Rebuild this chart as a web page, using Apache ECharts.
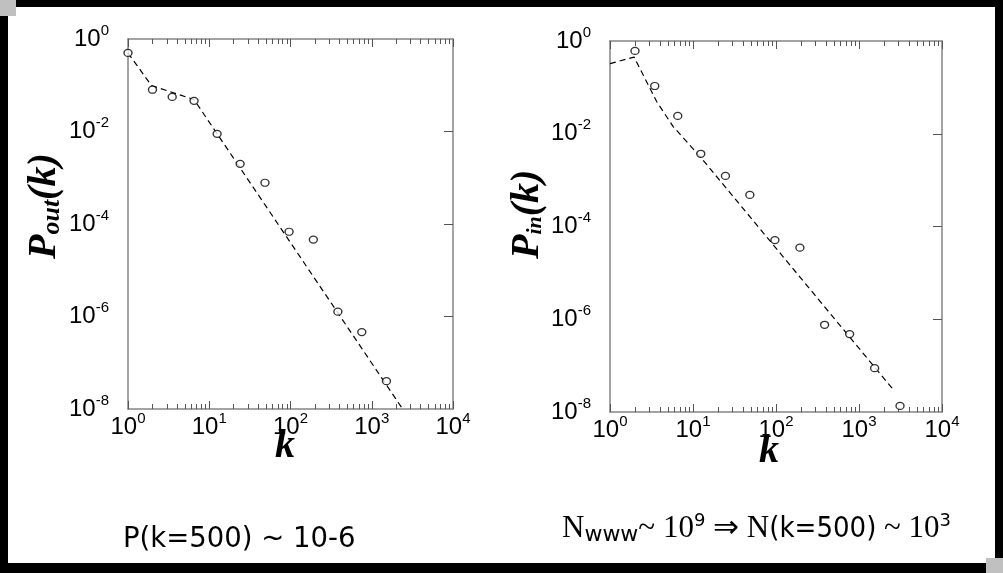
<!DOCTYPE html>
<html><head><meta charset="utf-8">
<script src="https://cdn.jsdelivr.net/npm/echarts@6/dist/echarts.min.js"></script>
<style>html,body{margin:0;padding:0;background:#000;} #c{width:1003px;height:573px;}</style>
</head><body><div id="c"></div>
<script>
// ---- data ----
const xMajorTicks = [1, 10, 100, 1000, 10000];
const xMinorTicks = [2,3,4,5,6,7,8,9, 20,30,40,50,60,70,80,90, 200,300,400,500,600,700,800,900, 2000,3000,4000,5000,6000,7000,8000,9000];
const yLabelValues = [1, 1e-2, 1e-4, 1e-6, 1e-8];
const yRightTicks = [1e-2, 1e-4, 1e-6];

const outK = [1, 2, 3.5, 6.5, 12.5, 24, 48.5, 96, 191, 383, 754, 1517];
const outP = [0.5, 0.08, 0.056, 0.046, 0.0089, 0.002, 7.8e-4, 6.8e-5, 4.6e-5, 1.27e-6, 4.6e-7, 4e-8];
const outFitK = [1, 1.94, 6.5, 2400];
const outFitP = [0.5, 0.099, 0.049, 1.0e-8];

const inK = [2, 3.46, 6.55, 12.4, 24.6, 48.4, 97, 194, 385, 771, 1543, 3120];
const inP = [0.61, 0.107, 0.0242, 0.0037, 0.00123, 4.8e-4, 5.1e-5, 3.5e-5, 7.6e-7, 4.8e-7, 8.8e-8, 1.35e-8];
const inFitK = [1, 1.95, 3.66, 5.8, 12.2, 2617];
const inFitP = [0.325, 0.45, 0.049, 0.0141, 0.0032, 2.96e-8];

const leftNote = 'P(k=500) ~ 10-6';

// ---- helpers ----
const zip = (a, b) => a.map((v, i) => [v, b[i]]);
const AX = '#858585';
const labelRich = {
  b: { fontSize: 24, fontFamily: 'Liberation Sans', color: '#000', verticalAlign: 'middle' },
  s: { fontSize: 15, fontFamily: 'Liberation Sans', color: '#000', padding: [0, 0, 17, 0], verticalAlign: 'middle' }
};
const powLabel = v => '{b|10}{s|' + Math.round(Math.log10(v)) + '}';

function xAxes(gMain, gMinor) {
  const base = { type: 'log', logBase: 10, min: 1, max: 10000, splitLine: { show: false } };
  return [
    Object.assign({}, base, { gridIndex: gMain, position: 'bottom',
      axisLine: { show: true, lineStyle: { color: AX, width: 1.5 } },
      axisTick: { show: true, inside: true, length: 8, customValues: xMajorTicks, lineStyle: { color: '#555', width: 1 } },
      axisLabel: { show: true, customValues: xMajorTicks, formatter: powLabel, rich: labelRich, margin: 2 } }),
    Object.assign({}, base, { gridIndex: gMain, position: 'top',
      axisLine: { show: true, lineStyle: { color: AX, width: 1.5 } },
      axisTick: { show: true, inside: true, length: 8, customValues: xMajorTicks, lineStyle: { color: '#555', width: 1 } },
      axisLabel: { show: false } }),
    Object.assign({}, base, { gridIndex: gMinor, position: 'bottom',
      axisLine: { show: false },
      axisTick: { show: true, inside: true, length: 5, customValues: xMinorTicks, lineStyle: { color: '#555', width: 1 } },
      axisLabel: { show: false } }),
    Object.assign({}, base, { gridIndex: gMinor, position: 'top',
      axisLine: { show: false },
      axisTick: { show: true, inside: true, length: 5, customValues: xMinorTicks, lineStyle: { color: '#555', width: 1 } },
      axisLabel: { show: false } })
  ];
}
function yAxes(gMain, gMinor) {
  const base = { type: 'log', logBase: 10, min: 1e-8, max: 1, splitLine: { show: false } };
  return [
    Object.assign({}, base, { gridIndex: gMain, position: 'left',
      axisLine: { show: true, lineStyle: { color: AX, width: 1.5 } },
      axisTick: { show: false },
      axisLabel: { show: true, customValues: yLabelValues, formatter: powLabel, rich: labelRich, margin: 19 } }),
    Object.assign({}, base, { gridIndex: gMain, position: 'right',
      axisLine: { show: true, lineStyle: { color: AX, width: 1.5 } },
      axisTick: { show: true, inside: true, length: 9, customValues: yRightTicks, lineStyle: { color: '#555', width: 1 } },
      axisLabel: { show: false } }),
    Object.assign({}, base, { gridIndex: gMinor, show: false })
  ];
}
const scatterStyle = { color: '#fff', borderColor: '#000', borderWidth: 1.3 };
const fitStyle = { color: '#000', width: 1.2, type: [6, 4] };
const titleP = { fontSize: 40, fontFamily: 'Liberation Serif', fontWeight: 'bold', fontStyle: 'italic', color: '#000' };
const titleSub = { fontSize: 26, fontFamily: 'Liberation Serif', fontWeight: 'bold', fontStyle: 'italic', color: '#000', padding: [14, 0, 0, 0] };

const chart = echarts.init(document.getElementById('c'), null, { renderer: 'canvas' });
chart.setOption({
  backgroundColor: '#000',
  animation: false,
  grid: [
    { left: 128, top: 39, width: 325, height: 370 },
    { left: 128, top: 39, width: 325, height: 370 },
    { left: 610, top: 41, width: 332, height: 371 },
    { left: 610, top: 41, width: 332, height: 371 }
  ],
  xAxis: [].concat(xAxes(0, 1), xAxes(2, 3)),
  yAxis: [].concat(yAxes(0, 1), yAxes(2, 3)),
  series: [
    { type: 'line', xAxisIndex: 0, yAxisIndex: 0, data: zip(outFitK, outFitP), showSymbol: false, lineStyle: fitStyle, z: 2 },
    { type: 'scatter', xAxisIndex: 0, yAxisIndex: 0, data: zip(outK, outP), symbol: 'circle', symbolSize: [8, 7], itemStyle: scatterStyle, z: 3 },
    { type: 'line', xAxisIndex: 4, yAxisIndex: 3, data: zip(inFitK, inFitP), showSymbol: false, lineStyle: fitStyle, z: 2 },
    { type: 'scatter', xAxisIndex: 4, yAxisIndex: 3, data: zip(inK, inP), symbol: 'circle', symbolSize: [8, 7], itemStyle: scatterStyle, z: 3 }
  ],
  graphic: [
    { type: 'rect', z: -100, shape: { x: 8, y: 7, width: 987, height: 556 }, style: { fill: '#fff' } },
    { type: 'rect', z: -50, shape: { x: 0, y: 0, width: 16, height: 16 }, style: { fill: '#c0c0c0' } },
    { type: 'rect', z: -50, shape: { x: 986, y: 558, width: 17, height: 15 }, style: { fill: '#c0c0c0' } },
    { type: 'text', x: 45, y: 259, rotation: Math.PI / 2,
      style: { text: '{p|P}{o|out}{p|(k)}', align: 'left', verticalAlign: 'middle', rich: { p: titleP, o: titleSub } } },
    { type: 'text', x: 528, y: 259, rotation: Math.PI / 2,
      style: { text: '{p|P}{o|in}{p|(k)}', align: 'left', verticalAlign: 'middle',
        rich: { p: titleP, o: Object.assign({}, titleSub, { fontSize: 22 }) } } },
    { type: 'text', x: 285, y: 447, style: { text: 'k', font: 'italic bold 40px "Liberation Serif"', fill: '#000', align: 'center', verticalAlign: 'middle' } },
    { type: 'text', x: 769, y: 452, style: { text: 'k', font: 'italic bold 40px "Liberation Serif"', fill: '#000', align: 'center', verticalAlign: 'middle' } },
    { type: 'text', x: 123, y: 540, style: { text: leftNote, font: '27.5px "DejaVu Sans"', fill: '#000', align: 'left', verticalAlign: 'middle' } },
    { type: 'text', x: 562, y: 529,
      style: { text: '{s|N}{w|www}{s|~ 10}{p|9}{s| ⇒ N}{a|(k=500)}{s| ~ 10}{p|3}', align: 'left', verticalAlign: 'middle',
        rich: { s: { fontSize: 31, fontFamily: 'Liberation Serif', color: '#000' },
                w: { fontSize: 22, fontFamily: 'DejaVu Sans', color: '#000', padding: [13, 0, 0, 0] },
                p: { fontSize: 18, fontFamily: 'DejaVu Sans', color: '#000', padding: [0, 0, 15, 0] },
                a: { fontSize: 29, fontFamily: 'DejaVu Sans Condensed', color: '#000' } } } }
  ]
});
</script></body></html>
